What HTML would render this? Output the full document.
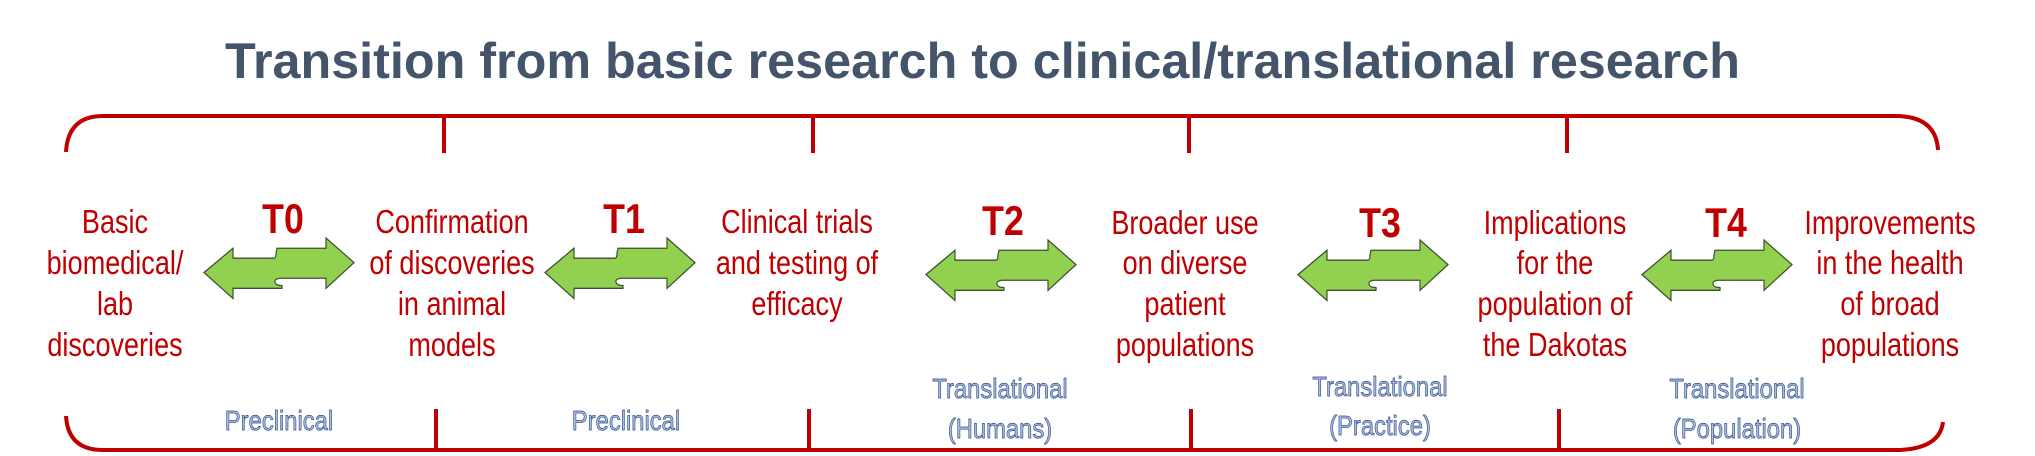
<!DOCTYPE html>
<html><head><meta charset="utf-8"><style>
html,body{margin:0;padding:0;background:#fff;}
svg{display:block;}
.r{font-family:"Liberation Sans",sans-serif;font-size:33px;fill:#c00000;}
.t{font-family:"Liberation Sans",sans-serif;font-size:42px;font-weight:bold;fill:#c00000;}
.b{font-family:"Liberation Sans",sans-serif;font-size:28px;fill:#a9bbe0;stroke:#2e4a86;stroke-width:0.7;}
</style></head><body>
<svg width="2035" height="456" viewBox="0 0 2035 456" xmlns="http://www.w3.org/2000/svg">
<defs>
<path id="arr" d="M0,32 L29,9.5 L29,18.7 L70,18.7 Q72,18.7 72,14 L73,9.5 L122,9.5 L122,0 L150,22.8 L122,46.6 L122,37.3 L76,37.3 Q70,38 71,41 Q72,44 78,44 L78,46.6 L29,46.6 L29,56 Z" fill="#92d050" stroke="#3f4f30" stroke-width="1.2"/>
</defs>
<text x="225" y="78" font-family="Liberation Sans, sans-serif" font-weight="bold" font-size="50" fill="#44546a" textLength="1515" lengthAdjust="spacingAndGlyphs">Transition from basic research to clinical/translational research</text>
<g fill="none" stroke="#c00000" stroke-width="4">
<path d="M66,152 Q68,116 103,116 L1895,116 Q1936,116 1938,150"/>
<path d="M66,416 Q68,450 103,450 L1900,450 Q1940,448 1943,422"/>
<path d="M444,117 V153 M813,117 V153 M1189,117 V153 M1567,117 V153"/>
<path d="M436,409 V449 M809,409 V449 M1191,409 V449 M1559,409 V449"/>
</g>
<g class="r" text-anchor="middle">
<g transform="translate(115,0) scale(0.82,1)"><text y="233">Basic</text><text y="274">biomedical/</text><text y="315">lab</text><text y="356">discoveries</text></g>
<g transform="translate(452,0) scale(0.82,1)"><text y="233">Confirmation</text><text y="274">of discoveries</text><text y="315">in animal</text><text y="356">models</text></g>
<g transform="translate(797,0) scale(0.82,1)"><text y="233">Clinical trials</text><text y="274">and testing of</text><text y="315">efficacy</text></g>
<g transform="translate(1185,0) scale(0.82,1)"><text y="234">Broader use</text><text y="274">on diverse</text><text y="315">patient</text><text y="356">populations</text></g>
<g transform="translate(1555,0) scale(0.82,1)"><text y="234">Implications</text><text y="274">for the</text><text y="315">population of</text><text y="356">the Dakotas</text></g>
<g transform="translate(1890,0) scale(0.82,1)"><text y="234">Improvements</text><text y="274">in the health</text><text y="315">of broad</text><text y="356">populations</text></g>
</g>
<g class="t" text-anchor="middle">
<g transform="translate(283,0) scale(0.85,1)"><text y="233">T0</text></g>
<g transform="translate(624,0) scale(0.85,1)"><text y="233">T1</text></g>
<g transform="translate(1003,0) scale(0.85,1)"><text y="235">T2</text></g>
<g transform="translate(1380,0) scale(0.85,1)"><text y="237">T3</text></g>
<g transform="translate(1726,0) scale(0.85,1)"><text y="237">T4</text></g>
</g>
<use href="#arr" transform="translate(204,238) scale(1,1.08)"/>
<use href="#arr" transform="translate(545,238) scale(1,1.08)"/>
<use href="#arr" transform="translate(926,240) scale(1,1.08)"/>
<use href="#arr" transform="translate(1298,240) scale(1,1.08)"/>
<use href="#arr" transform="translate(1642,240) scale(1,1.08)"/>
<g class="b" text-anchor="middle">
<g transform="translate(279,0) scale(0.85,1)"><text y="430">Preclinical</text></g>
<g transform="translate(626,0) scale(0.85,1)"><text y="430">Preclinical</text></g>
<g transform="translate(1000,0) scale(0.85,1)"><text y="398">Translational</text><text y="438">(Humans)</text></g>
<g transform="translate(1380,0) scale(0.85,1)"><text y="396">Translational</text><text y="435">(Practice)</text></g>
<g transform="translate(1737,0) scale(0.85,1)"><text y="398">Translational</text><text y="438">(Population)</text></g>
</g>
</svg>
</body></html>
